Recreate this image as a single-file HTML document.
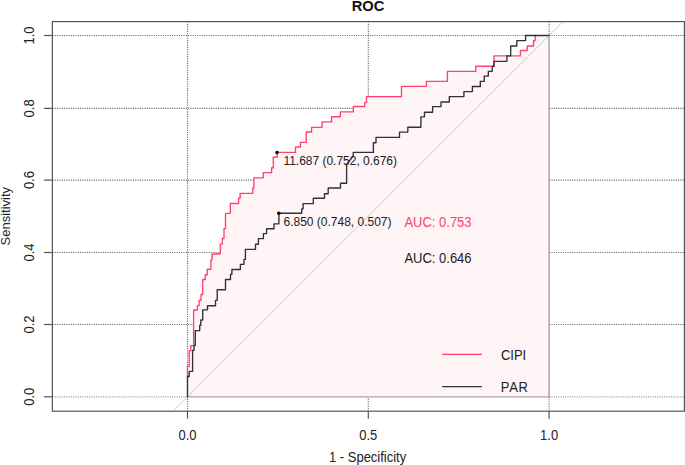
<!DOCTYPE html><html><head><meta charset="utf-8"><style>html,body{margin:0;padding:0;background:#fff;width:685px;height:465px;overflow:hidden}svg{display:block}text{font-family:"Liberation Sans",sans-serif}</style></head><body>
<svg width="685" height="465" viewBox="0 0 685 465">
<g stroke="#6a6a6a" stroke-width="1.1" stroke-dasharray="1.1 1.2"><line x1="52.4" y1="324.5" x2="684.4" y2="324.5"/><line x1="52.4" y1="252.5" x2="684.4" y2="252.5"/><line x1="52.4" y1="180.1" x2="684.4" y2="180.1"/><line x1="52.4" y1="108.4" x2="684.4" y2="108.4"/><line x1="52.4" y1="35.5" x2="684.4" y2="35.5"/><line x1="52.4" y1="396.9" x2="187.5" y2="396.9" stroke="#a0a0a0"/><line x1="549.1" y1="396.9" x2="684.4" y2="396.9" stroke="#a0a0a0"/><line x1="187.5" y1="21.6" x2="187.5" y2="411.2"/><line x1="368.3" y1="21.6" x2="368.3" y2="411.2"/><line x1="549.1" y1="21.6" x2="549.1" y2="35.5"/><line x1="549.1" y1="396.9" x2="549.1" y2="411.2"/></g>
<path d="M 187.5 396.9 V 366.4 H 189.2 V 350.7 H 190.8 V 345.6 H 193.6 V 310 H 197.4 V 305.6 H 199.1 V 300.3 H 201 V 294.5 H 202.7 V 279.5 H 205.3 V 274.7 H 207.2 V 269.2 H 210.9 V 259.8 H 212.1 V 254 H 220.3 V 244.1 H 222.3 V 238.5 H 224 V 228.6 H 225.5 V 213.3 H 230.3 V 203.5 H 238.6 V 198.2 H 240.1 V 193.4 H 252.7 V 188.1 H 253.9 V 177.9 H 263.3 V 172.6 H 271.6 V 167.7 H 273.3 V 157.2 H 277.1 V 152.4 H 295.5 V 147 H 300.4 V 142.4 H 306.2 V 132 H 311.5 V 127.4 H 322 V 121.9 H 331.6 V 116.7 H 340.3 V 111.8 H 353.3 V 106.5 H 364.7 V 102.4 H 366.5 V 96.6 H 401.5 V 86.4 H 426.4 V 81.3 H 447.4 V 71.3 H 475.8 V 66.2 H 494 V 55.9 H 520.4 V 50.5 H 527.2 V 46 H 533.5 V 40.6 H 535.2 V 35.5 H 549.1 V 396.9 Z" fill="#fff4f6" stroke="none"/>
<path d="M 187.5 396.9 H 549.1" fill="none" stroke="#aaa6a6" stroke-width="1.2"/>
<path d="M 549.1 396.9 V 35.5" fill="none" stroke="#959393" stroke-width="1.2"/>
<line x1="173.2" y1="411.2" x2="563.0" y2="21.6" stroke="#c9c9c9" stroke-width="1"/>
<path d="M 187.5 377.5 V 366.4 H 189.2 V 350.7 H 190.8 V 345.6 H 193.6 V 310 H 197.4 V 305.6 H 199.1 V 300.3 H 201 V 294.5 H 202.7 V 279.5 H 205.3 V 274.7 H 207.2 V 269.2 H 210.9 V 259.8 H 212.1 V 254 H 220.3 V 244.1 H 222.3 V 238.5 H 224 V 228.6 H 225.5 V 213.3 H 230.3 V 203.5 H 238.6 V 198.2 H 240.1 V 193.4 H 252.7 V 188.1 H 253.9 V 177.9 H 263.3 V 172.6 H 271.6 V 167.7 H 273.3 V 157.2 H 277.1 V 152.4 H 295.5 V 147 H 300.4 V 142.4 H 306.2 V 132 H 311.5 V 127.4 H 322 V 121.9 H 331.6 V 116.7 H 340.3 V 111.8 H 353.3 V 106.5 H 364.7 V 102.4 H 366.5 V 96.6 H 401.5 V 86.4 H 426.4 V 81.3 H 447.4 V 71.3 H 475.8 V 66.2 H 494 V 55.9 H 520.4 V 50.5 H 527.2 V 46 H 533.5 V 40.6 H 535.2 V 35.5 H 536.5" fill="none" stroke="#ff4070" stroke-width="1.35" stroke-linejoin="round" stroke-linecap="round"/>
<path d="M 187.5 396.9 V 376.5 H 189.2 V 371.3 H 192.6 V 350.4 H 194 V 345.6 H 195.3 V 330.6 H 199.7 V 325.4 H 200.8 V 320 H 202.7 V 309.8 H 207.5 V 305.7 H 215.5 V 300.3 H 217.2 V 289.7 H 225.5 V 279.5 H 230.5 V 274.4 H 231.9 V 269.5 H 240.4 V 264.3 H 244 V 259.4 H 245.4 V 249.3 H 255.5 V 244.2 H 258.4 V 238.6 H 263.4 V 233.6 H 266.6 V 228.7 H 274 V 223.8 H 278.9 V 213.2 H 301.7 V 208.9 H 303.1 V 203.6 H 313.3 V 198.2 H 324.5 V 193.7 H 328.2 V 188 H 340.5 V 183.2 H 346.6 V 164.5 L 353.2 156 V 152.4 H 373.4 V 142.7 H 376 V 137.4 H 399.5 V 132.1 H 407.8 V 127.2 H 420.9 V 116.8 H 424.5 V 112.2 H 432.6 V 106.6 H 441 V 102 H 449.3 V 96.6 H 463.9 V 91.6 H 472.4 V 86.5 H 480.3 V 81.3 H 484.2 V 76.1 H 488.3 V 71.3 H 492.2 V 66.4 H 494 V 61.3 H 506.9 V 55.9 H 510.7 V 46 H 516.8 V 40.6 H 525.6 V 35.5 H 549.1" fill="none" stroke="#2e323c" stroke-width="1.35" stroke-linejoin="round" stroke-linecap="round"/>
<circle cx="277.0" cy="152.5" r="1.75" fill="#000"/>
<circle cx="278.8" cy="213.2" r="1.75" fill="#000"/>
<rect x="52.4" y="21.6" width="632.0" height="389.59999999999997" fill="none" stroke="#555" stroke-width="1.2"/>
<g stroke="#555" stroke-width="1.2"><line x1="43.9" y1="396.8" x2="52.4" y2="396.8"/><line x1="43.9" y1="324.5" x2="52.4" y2="324.5"/><line x1="43.9" y1="252.5" x2="52.4" y2="252.5"/><line x1="43.9" y1="180.1" x2="52.4" y2="180.1"/><line x1="43.9" y1="108.4" x2="52.4" y2="108.4"/><line x1="43.9" y1="35.5" x2="52.4" y2="35.5"/><line x1="187.5" y1="411.2" x2="187.5" y2="418.7"/><line x1="368.3" y1="411.2" x2="368.3" y2="418.7"/><line x1="549.1" y1="411.2" x2="549.1" y2="418.7"/></g>
<text transform="translate(368.0 10.7) scale(1 1.05)" font-size="14.7" text-anchor="middle" font-weight="bold" fill="#111">ROC</text>
<text transform="translate(33.8 396.8) rotate(-90) scale(1 1.07)" font-size="13" text-anchor="middle" fill="#222">0.0</text>
<text transform="translate(33.8 324.5) rotate(-90) scale(1 1.07)" font-size="13" text-anchor="middle" fill="#222">0.2</text>
<text transform="translate(33.8 252.5) rotate(-90) scale(1 1.07)" font-size="13" text-anchor="middle" fill="#222">0.4</text>
<text transform="translate(33.8 180.1) rotate(-90) scale(1 1.07)" font-size="13" text-anchor="middle" fill="#222">0.6</text>
<text transform="translate(33.8 108.4) rotate(-90) scale(1 1.07)" font-size="13" text-anchor="middle" fill="#222">0.8</text>
<text transform="translate(33.8 35.5) rotate(-90) scale(1 1.07)" font-size="13" text-anchor="middle" fill="#222">1.0</text>
<text transform="translate(9.9 216.2) rotate(-90)" font-size="13" text-anchor="middle" fill="#222">Sensitivity</text>
<text transform="translate(187.5 439.6) scale(1 1.07)" font-size="13" text-anchor="middle" fill="#222">0.0</text>
<text transform="translate(368.3 439.6) scale(1 1.07)" font-size="13" text-anchor="middle" fill="#222">0.5</text>
<text transform="translate(549.1 439.6) scale(1 1.07)" font-size="13" text-anchor="middle" fill="#222">1.0</text>
<text transform="translate(367.6 462.4) scale(1 1.07)" font-size="13" text-anchor="middle" fill="#222">1 - Specificity</text>
<text transform="translate(283.4 164.9) scale(1 1.04)" font-size="12" textLength="113.6" lengthAdjust="spacing" fill="#222">11.687 (0.752, 0.676)</text>
<text transform="translate(283.5 225.5) scale(1 1.04)" font-size="12" fill="#222">6.850 (0.748, 0.507)</text>
<text transform="translate(404.4 226.9) scale(1 1.07)" font-size="13" fill="#ff4070">AUC: 0.753</text>
<text transform="translate(404.4 262.8) scale(1 1.07)" font-size="13" fill="#222">AUC: 0.646</text>
<line x1="442.6" y1="354.4" x2="481.4" y2="354.4" stroke="#ff4070" stroke-width="1.25" stroke-linecap="round"/>
<line x1="442.6" y1="386.6" x2="481.4" y2="386.6" stroke="#2e323c" stroke-width="1.25" stroke-linecap="round"/>
<text transform="translate(500.9 359.7) scale(1 1.07)" font-size="13" fill="#222">CIPI</text>
<text transform="translate(500.8 392.3) scale(1 1.07)" font-size="13" textLength="27.2" lengthAdjust="spacing" fill="#222">PAR</text>
</svg></body></html>
